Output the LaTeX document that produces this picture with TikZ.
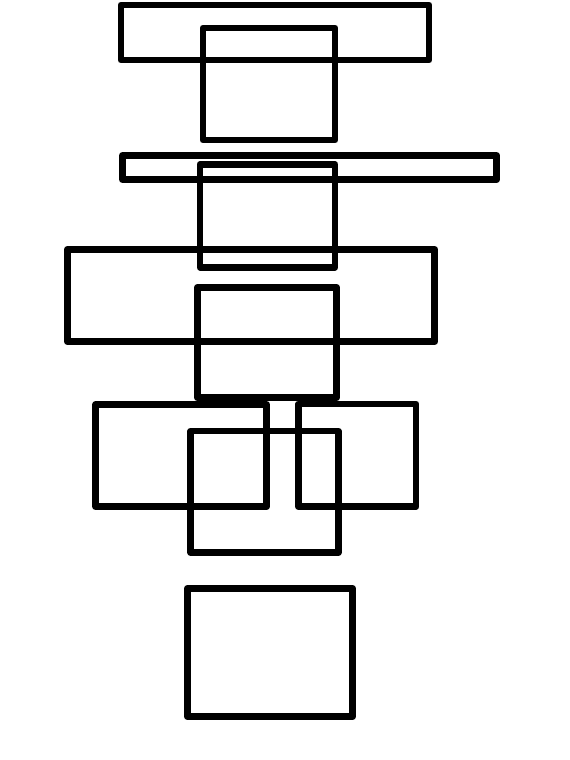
\documentclass[tikz,border=0pt]{standalone}
\begin{document}
\begin{tikzpicture}[x=1pt,y=-1pt,
  box/.style={draw=black,line width=6.8pt,line join=round}]
\useasboundingbox (0,0) rectangle (570,760);
\draw[box] (121,5) rectangle (429,60);
\draw[box] (203,28) rectangle (335,140);
\draw[box] (122.5,155.5) rectangle (496.7,179.7);
\draw[box] (200,164.5) rectangle (335,267.3);
\draw[box] (67.3,249.3) rectangle (434.8,341.7);
\draw[box] (197.3,287.3) rectangle (336.7,397.8);
\draw[box] (95.7,404.5) rectangle (266.7,506.7);
\draw[box] (298.3,404) rectangle (416,506.7);
\draw[box] (190.7,431) rectangle (338.3,552.5);
\draw[box] (187.3,588.3) rectangle (352.7,716.7);
\end{tikzpicture}
\end{document}
